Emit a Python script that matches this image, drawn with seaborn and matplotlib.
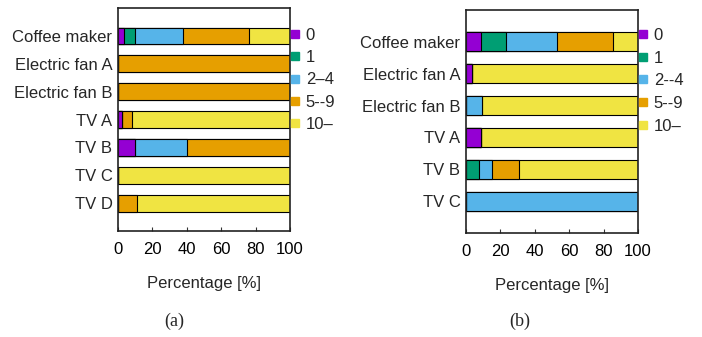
import pandas as pd
import matplotlib.pyplot as plt
from matplotlib.lines import Line2D
import seaborn as sns

# Datos (porcentajes por categoria)
groups = ["0", "1", "2-4", "5-9", "10-"]
colors = ["#9400D3", "#009E73", "#56B4E9", "#E69F00", "#F0E442"]

devices_a = ["Coffee maker", "Electric fan A", "Electric fan B", "TV A", "TV B", "TV C", "TV D"]
g0_a = [3.3, 0, 0, 2.3, 10, 0, 0]
g1_a = [6.8, 0, 0, 0, 0, 0, 0]
g24_a = [27.9, 0, 0, 0, 30, 0, 0]
g59_a = [38, 100, 100, 5.7, 60, 0, 11.1]
g10_a = [24, 0, 0, 92, 0, 100, 88.9]
legend_a = ["0", "1", "2\u20134", "5--9", "10\u2013"]

devices_b = ["Coffee maker", "Electric fan A", "Electric fan B", "TV A", "TV B", "TV C"]
g0_b = [8.9, 3.7, 0, 8.9, 0, 0]
g1_b = [14.6, 0, 0, 0, 7.6, 0]
g24_b = [29.6, 0, 9.3, 0, 7.8, 100]
g59_b = [32.3, 0, 0, 0, 15.5, 0]
g10_b = [14.6, 96.3, 90.7, 91.1, 69.1, 0]
legend_b = ["0", "1", "2--4", "5--9", "10\u2013"]

sns.set_theme(style="white")
plt.rcParams["font.family"] = ["Liberation Sans", "DejaVu Sans"]
plt.rcParams["font.size"] = 12


def stacked(ax, devices, series, labels, leg_y, spacing):
    df = pd.DataFrame(dict(zip(groups, series)), index=devices)
    cum = df.cumsum(axis=1)
    # dibujar de la barra acumulada mas larga a la mas corta
    for g, c in reversed(list(zip(groups, colors))):
        d = pd.DataFrame({"device": devices, "value": cum[g].values})
        sns.barplot(data=d, x="value", y="device", order=devices, orient="h",
                    color=c, saturation=1, edgecolor="black", linewidth=0.8,
                    width=0.6, errorbar=None, ax=ax)
    ax.set_xlim(0, 100)
    ax.set_ylim(len(devices), -1)
    ax.set_xticks([0, 20, 40, 60, 80, 100])
    ax.set_ylabel("")
    ax.set_xlabel("Percentage [%]", fontsize=12)
    ax.xaxis.set_label_coords(0.5, -0.20)
    ax.tick_params(axis="x", direction="in", length=3, width=0.8, pad=8,
                   labelsize=12, bottom=True, colors="#333333", labelcolor="black")
    ax.tick_params(axis="y", length=0, pad=4, labelsize=12)
    for s in ax.spines.values():
        s.set_linewidth(1.2)
        s.set_color("#222222")
    handles = [Line2D([], [], marker="s", linestyle="", markersize=5.5,
                      markerfacecolor=c, markeredgecolor=c) for c in colors]
    ax.legend(handles, labels, loc="upper left", bbox_to_anchor=(1.0, leg_y),
              frameon=False, borderpad=0, borderaxespad=0, handlelength=0.65,
              handletextpad=0.3, labelspacing=spacing, fontsize=12)


fig = plt.figure(figsize=(7.02, 3.37), dpi=100)
ax1 = fig.add_axes([0.168, 0.3145, 0.245, 0.6617])
ax2 = fig.add_axes([0.6638, 0.3086, 0.245, 0.6617])

stacked(ax1, devices_a, [g0_a, g1_a, g24_a, g59_a, g10_a], legend_a, 0.91, 0.43)
stacked(ax2, devices_b, [g0_b, g1_b, g24_b, g59_b, g10_b], legend_b, 0.92, 0.46)

fig.text(0.248, 0.045, "(a)", ha="center", va="center", fontsize=13,
         family=["Liberation Serif", "DejaVu Serif"])
fig.text(0.741, 0.045, "(b)", ha="center", va="center", fontsize=13,
         family=["Liberation Serif", "DejaVu Serif"])

plt.savefig("out.png", dpi=100)
